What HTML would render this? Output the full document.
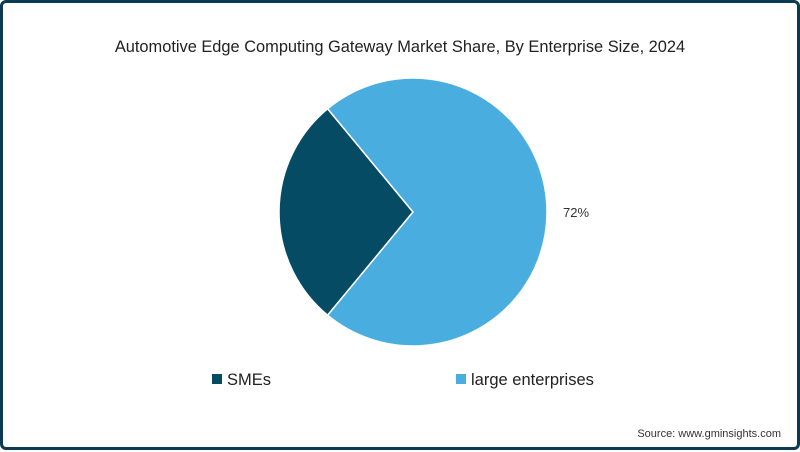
<!DOCTYPE html>
<html><head><meta charset="utf-8"><style>
html,body{margin:0;padding:0;background:#fff;}
#frame{position:absolute;left:0;top:0;width:794px;height:444px;border:3px solid #0b3a52;border-radius:6px;background:#fff;font-family:"Liberation Sans",sans-serif;}
</style></head><body>
<div id="frame">
<svg id="chart" width="794" height="444" viewBox="3 3 794 444">
<text x="400" y="52" text-anchor="middle" font-size="16.4" fill="#222">Automotive Edge Computing Gateway Market Share, By Enterprise Size, 2024</text>
<g id="slices"></g>
<g id="labels"></g>
<g id="legend"></g>
<text x="781" y="437" text-anchor="end" font-size="11" fill="#333">Source: www.gminsights.com</text>
</svg>
</div>
<script>
const categories = ["SMEs", "large enterprises"];
const values = [28, 72];
const colors = ["#054b64", "#4aade0"];
const showLabel = [false, true];
const cx = 413, cy = 212, r = 134;
const ns = "http://www.w3.org/2000/svg";
const total = values.reduce((a,b)=>a+b,0);
const start0 = 270 - (values[0]/total*360)/2;
function pt(deg, rad){const a=(deg-90)*Math.PI/180;return [cx+rad*Math.cos(a), cy+rad*Math.sin(a)];}
let ang = start0;
const sg = document.getElementById('slices'), lg = document.getElementById('labels'), leg = document.getElementById('legend');
values.forEach((v,i)=>{
  const sweep = v/total*360;
  const p1 = pt(ang, r), p2 = pt(ang+sweep, r);
  const path = document.createElementNS(ns,'path');
  path.setAttribute('d',`M${cx},${cy} L${p1[0]},${p1[1]} A${r},${r} 0 ${sweep>180?1:0} 1 ${p2[0]},${p2[1]} Z`);
  path.setAttribute('fill',colors[i]);
  path.setAttribute('stroke','#fff');
  path.setAttribute('stroke-width','1.5');
  
  
  sg.appendChild(path);
  if(showLabel[i]){
    const mid = ang + sweep/2;
    const lp = pt(mid, r+29);
    const t = document.createElementNS(ns,'text');
    t.setAttribute('x', lp[0]); t.setAttribute('y', lp[1]+5);
    t.setAttribute('text-anchor','middle'); t.setAttribute('font-size','13'); t.setAttribute('fill','#333');
    t.textContent = v + '%';
    
    
    lg.appendChild(t);
  }
  ang += sweep;
});
const legX = [212, 456];
categories.forEach((c,i)=>{
  const g = document.createElementNS(ns,'g');
  
  
  const rc = document.createElementNS(ns,'rect');
  rc.setAttribute('x', legX[i]); rc.setAttribute('y', 374); rc.setAttribute('width',10); rc.setAttribute('height',10);
  rc.setAttribute('fill', colors[i]);
  const t = document.createElementNS(ns,'text');
  t.setAttribute('x', legX[i]+15); t.setAttribute('y', 385); t.setAttribute('font-size','16.5'); t.setAttribute('fill','#222');
  t.textContent = c;
  g.appendChild(rc); g.appendChild(t); leg.appendChild(g);
});
</script>
</body></html>
